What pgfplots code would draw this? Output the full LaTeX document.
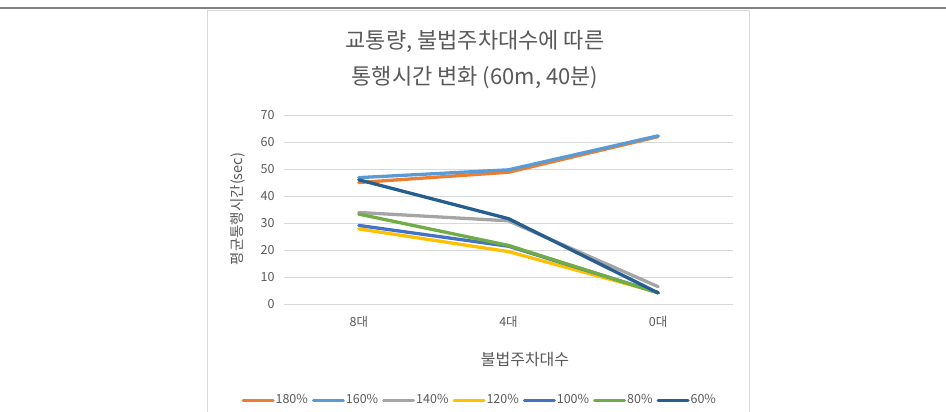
\documentclass[border=0pt]{standalone}
\usepackage{fontspec}
\setmainfont{Noto Sans CJK KR}
\usepackage{pgfplots}
\pgfplotsset{compat=1.18}
\definecolor{cA}{HTML}{ED7D31}
\definecolor{cB}{HTML}{5B9BD5}
\definecolor{cC}{HTML}{A5A5A5}
\definecolor{cD}{HTML}{FFC000}
\definecolor{cE}{HTML}{4472C4}
\definecolor{cF}{HTML}{70AD47}
\definecolor{cG}{HTML}{255E91}
\definecolor{txt}{HTML}{595959}
\definecolor{gridc}{HTML}{D9D9D9}
\begin{document}
\begin{tikzpicture}[x=1pt,y=1pt]
\path[use as bounding box] (0pt,0pt) rectangle (946pt,412pt);
\draw[line width=1.5pt, color=black!50] (0pt,404pt) -- (946pt,404pt);
\draw[color=gridc, line width=1pt] (207pt,0pt) -- (207pt,401pt) -- (749pt,401pt) -- (749pt,0pt);
\node[text=txt, font=\fontsize{22}{24}\selectfont] at (475pt,371pt) {교통량, 불법주차대수에 따른};
\node[text=txt, font=\fontsize{22}{24}\selectfont] at (475pt,334pt) {통행시간 변화 (60m, 40분)};
\node[text=txt, font=\fontsize{16}{18}\selectfont] at (525pt,52pt) {불법주차대수};
\node[text=txt, font=\fontsize{14.5}{16}\selectfont, rotate=90] at (238pt,203pt) {평균통행시간(sec)};
\begin{axis}[at={(284pt,108pt)}, anchor=south west, scale only axis,
  width=449pt, height=189pt,
  xmin=-0.5, xmax=2.5, ymin=0, ymax=70,
  ytick={0,10,...,70}, xtick={0,1,2}, xticklabels={8대,4대,0대},
  ymajorgrids, grid style={color=gridc, line width=0.9pt},
  axis line style={draw=none}, major tick length=0pt,
  tick label style={font=\fontsize{12.5}{14}\selectfont, text=txt},
  yticklabel style={xshift=-6pt},
  xticklabel style={yshift=-9pt},
  /pgf/number format/assume math mode=true,
  clip=false,
  legend columns=7,
  legend style={at={(axis description cs:0.436,-0.508)}, anchor=center, draw=none, fill=none,
    font=\fontsize{12.5}{14}\selectfont, text=txt,
    /tikz/every even column/.append style={column sep=2pt},
    /tikz/every odd column/.append style={column sep=-1pt},
    inner sep=0pt},
  legend image code/.code={\draw[#1, line width=3pt] (0pt,0pt) -- (30pt,0pt);},
  every axis plot/.append style={line width=3.3pt, line join=round, line cap=round, mark=none},
]
\addplot[cA] coordinates {(0,45) (1,48.8) (2,62)};
\addlegendentry{180\%}
\addplot[cB] coordinates {(0,46.8) (1,49.7) (2,62.3)};
\addlegendentry{160\%}
\addplot[cC] coordinates {(0,33.9) (1,30.8) (2,6.4)};
\addlegendentry{140\%}
\addplot[cD] coordinates {(0,27.8) (1,19.4) (2,4.3)};
\addlegendentry{120\%}
\addplot[cE] coordinates {(0,29.1) (1,21.4) (2,4.2)};
\addlegendentry{100\%}
\addplot[cF] coordinates {(0,33.3) (1,21.7) (2,4.1)};
\addlegendentry{80\%}
\addplot[cG] coordinates {(0,46) (1,31.6) (2,4.1)};
\addlegendentry{60\%}
\end{axis}
\end{tikzpicture}
\end{document}
